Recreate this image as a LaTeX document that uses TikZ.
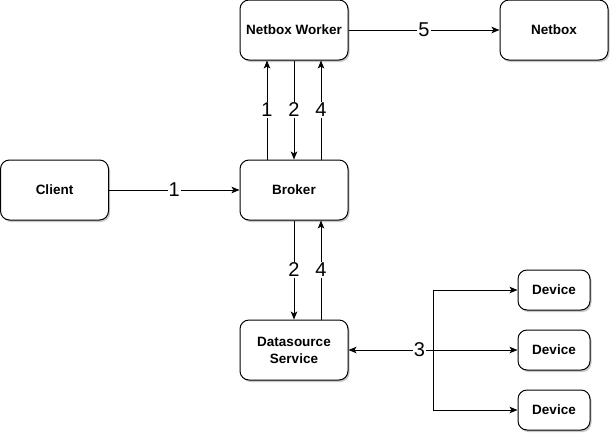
\documentclass[tikz,border=0pt]{standalone}
\usepackage{fontspec}
\setmainfont{Liberation Sans}
\usetikzlibrary{arrows.meta,shadows,calc}
\begin{document}
\begin{tikzpicture}[x=1pt,y=-1pt,
  box/.style={draw=black,line width=1pt,fill=white,rounded corners=9pt,
    minimum width=108pt,minimum height=60pt,inner sep=0pt,align=center,
    font=\fontsize{13.5}{17}\selectfont\bfseries,
    drop shadow={shadow xshift=1.5pt,shadow yshift=-2pt,fill=black!35,opacity=0.6}},
  dev/.style={box,minimum width=72pt,minimum height=40pt},
  conn/.style={line width=1pt,draw=black,-{Stealth[length=8pt,width=6.5pt,inset=2pt]}},
  lbl/.style={fill=white,inner sep=1pt,font=\fontsize{20}{20}\selectfont}
]
\useasboundingbox (0,0) rectangle (612,434);
\node[box] (worker) at (294,30) {Netbox Worker};
\node[box] (netbox) at (554,30) {Netbox};
\node[box] (client) at (54.5,190) {Client};
\node[box] (broker) at (294,190) {Broker};
\node[box] (ds) at (294,350) {Datasource\\Service};
\node[dev] (d1) at (554,290) {Device};
\node[dev] (d2) at (554,350) {Device};
\node[dev] (d3) at (554,410) {Device};

\draw[conn] (client) -- node[lbl]{1} (broker);
\draw[conn] (worker) -- node[lbl]{5} (netbox);

\draw[conn] ([xshift=-27pt]broker.north) -- node[lbl]{1} ([xshift=-27pt]worker.south);
\draw[conn] (worker.south) -- node[lbl]{2} (broker.north);
\draw[conn] ([xshift=27pt]broker.north) -- node[lbl]{4} ([xshift=27pt]worker.south);

\draw[conn] (broker.south) -- node[lbl]{2} (ds.north);
\draw[conn] ([xshift=27pt]ds.north) -- node[lbl]{4} ([xshift=27pt]broker.south);

\coordinate (split) at (433,350);
\draw[conn] (split) |- (d1.west);
\draw[conn] (split) |- (d3.west);
\draw[conn,{Stealth[length=8pt,width=6.5pt,inset=2pt]}-{Stealth[length=8pt,width=6.5pt,inset=2pt]}] (ds.east) -- node[lbl,pos=0.42]{3} (d2.west);
\end{tikzpicture}
\end{document}
